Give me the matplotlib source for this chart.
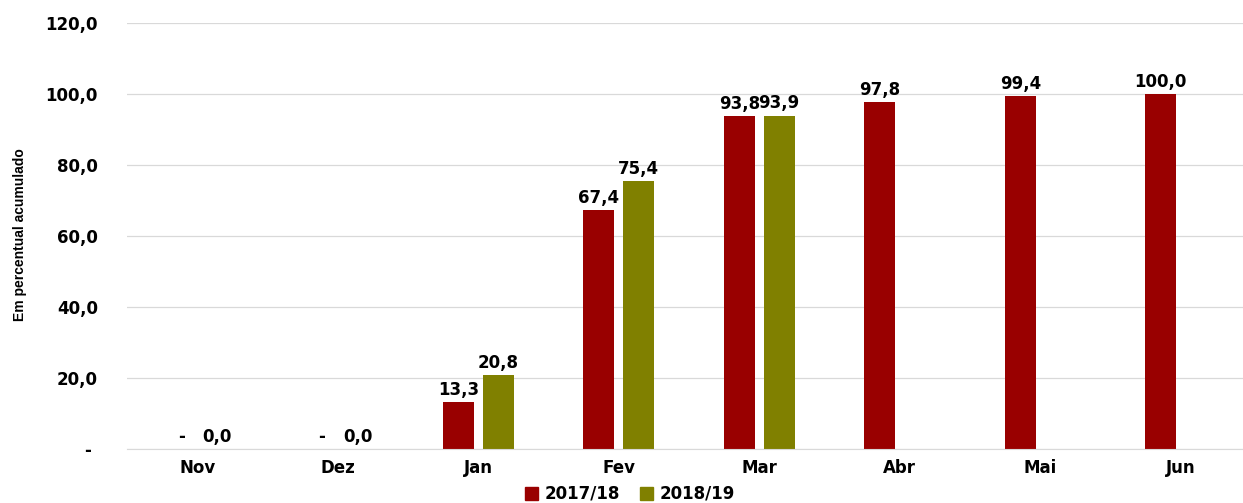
import matplotlib
matplotlib.use("Agg")
import matplotlib.pyplot as plt
import numpy as np
from matplotlib.patches import Patch

plt.rcParams["font.family"] = ["DejaVu Sans"]

categories = ["Nov", "Dez", "Jan", "Fev", "Mar", "Abr", "Mai", "Jun"]
s2017 = [0.0, 0.0, 13.3, 67.4, 93.8, 97.8, 99.4, 100.0]
s2018 = [0.0, 0.0, 20.8, 75.4, 93.9, None, None, None]
series_names = ["2017/18", "2018/19"]
yticks = [0, 20, 40, 60, 80, 100, 120]

RED = "#990000"
OLIVE = "#808000"

def fmt(v):
    if v == 0:
        return "-"
    return f"{v:.1f}".replace(".", ",")

fig = plt.figure(figsize=(12.43, 5.03), dpi=100)
ax = fig.add_axes([127/1243, 1-449/503, 1124/1243, (449-23)/503])

x = np.arange(len(categories))
w = 0.22
off = 0.142
FS = 12

for xi, v in zip(x, s2017):
    ax.bar(xi - off, v, width=w, color=RED, zorder=2)
    lab = "-" if v == 0 else fmt(v)
    ax.text(xi - off + (0.03 if v == 0 else 0), v + 0.9, lab, ha="center", va="bottom",
            fontsize=FS, fontweight="bold", color="black")
for xi, v in zip(x, s2018):
    if v is None:
        continue
    ax.bar(xi + off, v, width=w, color=OLIVE, zorder=2)
    lab = f"{v:.1f}".replace(".", ",")
    ax.text(xi + off, v + 0.9, lab, ha="center", va="bottom",
            fontsize=FS, fontweight="bold", color="black")

ax.set_xlim(-0.5, len(categories) - 0.5)
ax.set_ylim(0, 120)
ax.set_yticks(yticks)
ax.set_yticklabels([fmt(t) + (" " if t == 0 else "") for t in yticks],
                   fontsize=FS, fontweight="bold")
ax.set_xticks(x)
ax.set_xticklabels(categories, fontsize=FS, fontweight="bold")
ax.tick_params(axis="x", length=0, pad=7)
ax.tick_params(axis="y", length=0, pad=21)
ax.grid(axis="y", color="#d9d9d9", linewidth=0.9, zorder=0)
for s in ["top", "right", "left"]:
    ax.spines[s].set_visible(False)
ax.spines["bottom"].set_color("#d9d9d9")
ax.set_axisbelow(True)

fig.text(20/1243, 1-235/503, "Em percentual acumulado", rotation=90,
         ha="center", va="center", fontsize=10, fontweight="bold",
         family=["Liberation Sans Narrow", "Liberation Sans", "DejaVu Sans"])

handles = [Patch(color=RED), Patch(color=OLIVE)]
fig.legend(handles, series_names, loc="center", bbox_to_anchor=(630/1243, 1-494/503),
           ncol=2, frameon=False, prop={"weight": "bold", "size": FS},
           handlelength=0.8, handleheight=0.8, handletextpad=0.4, columnspacing=1.2)

fig.savefig("out.png", dpi=100)
